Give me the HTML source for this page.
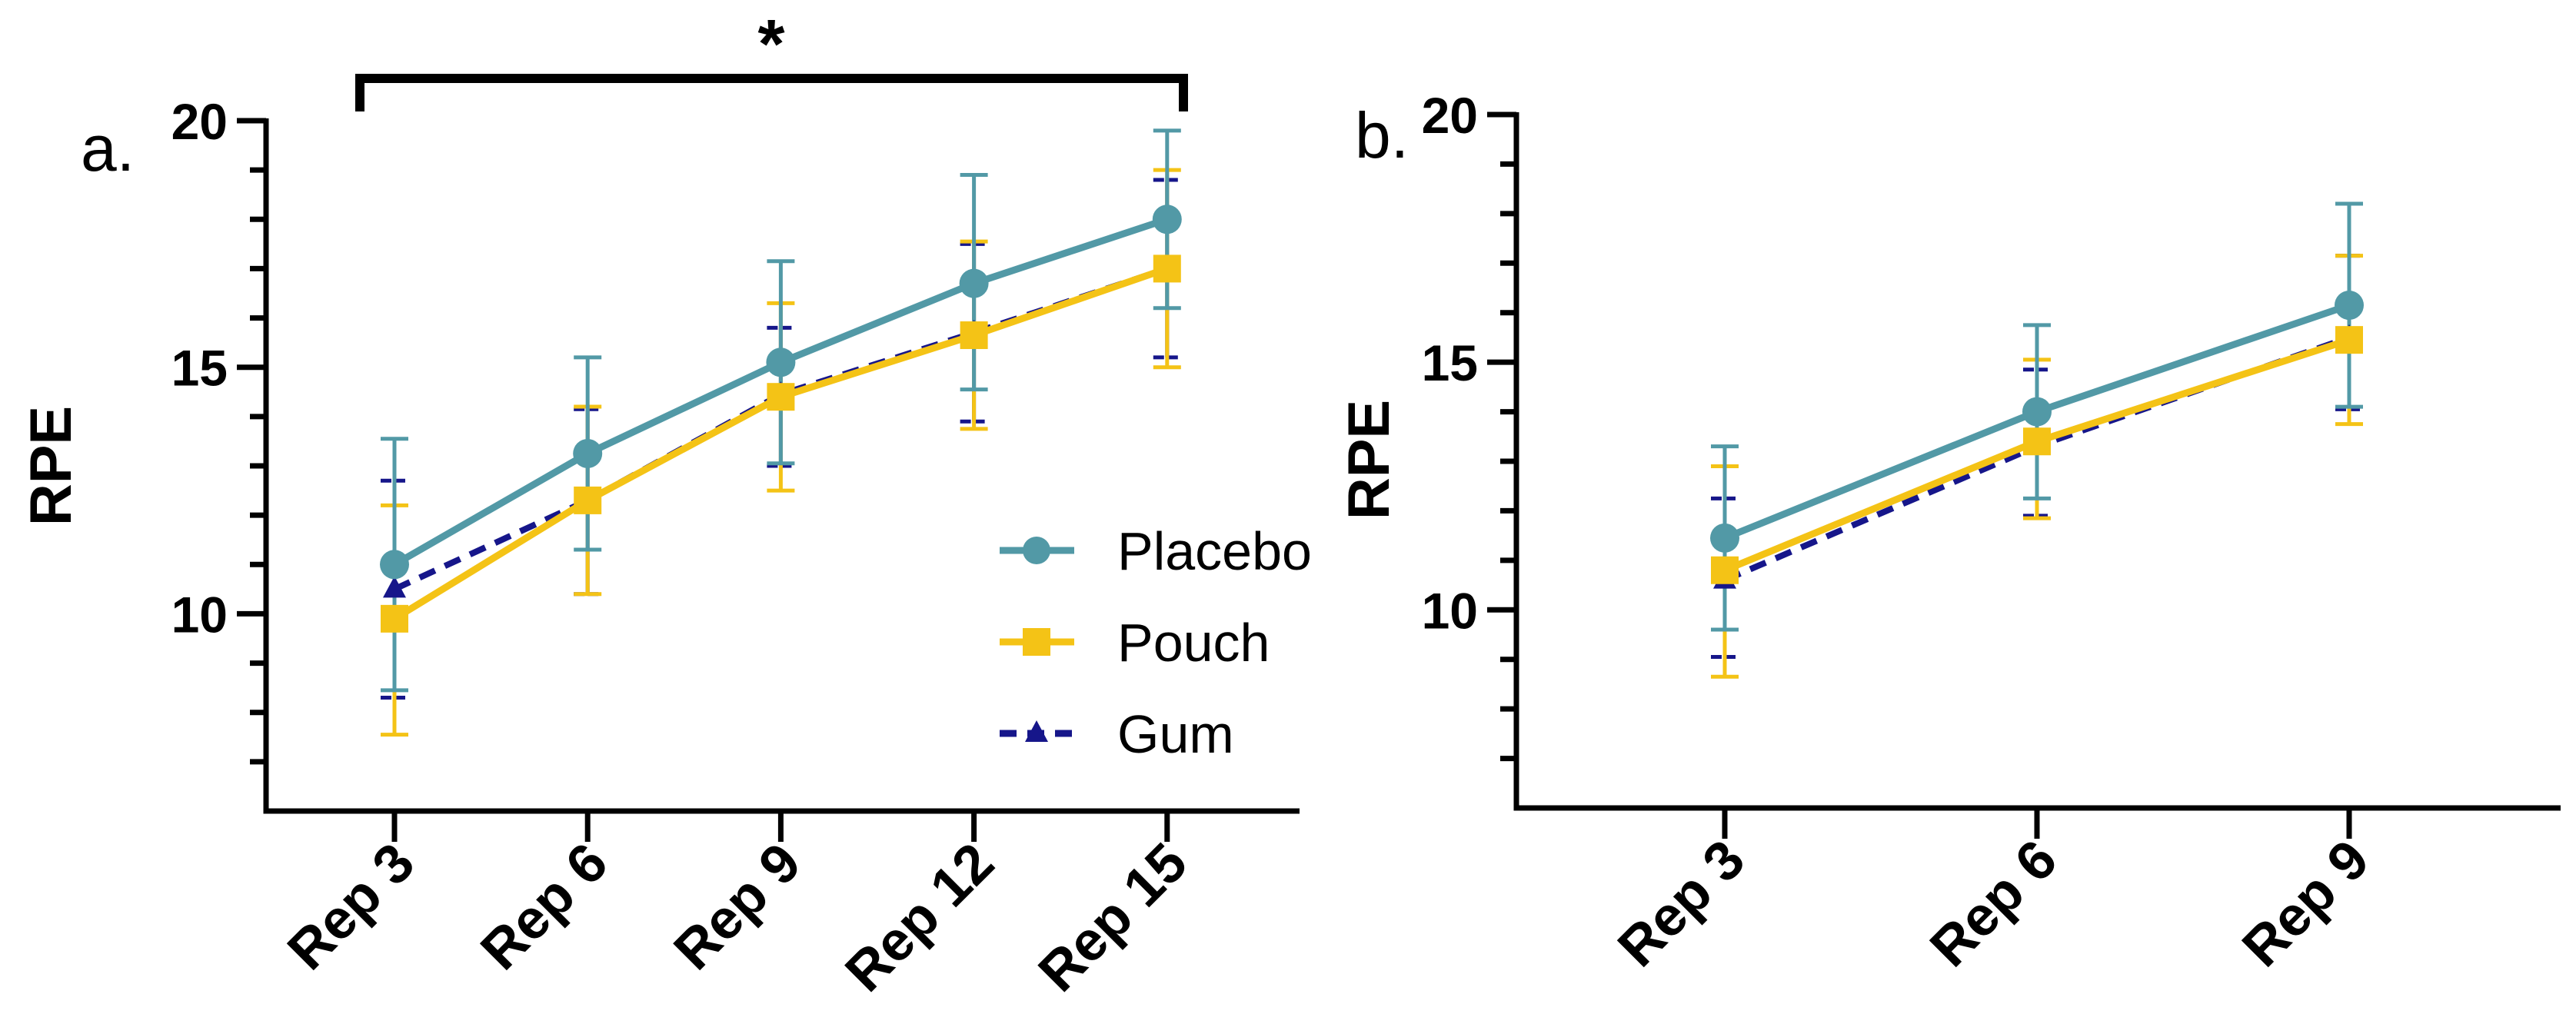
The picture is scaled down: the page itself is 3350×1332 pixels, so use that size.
<!DOCTYPE html>
<html><head><meta charset="utf-8"><style>
html,body{margin:0;padding:0;background:#fff;}
svg{display:block;font-family:"Liberation Sans",Arial,sans-serif;}
</style></head><body>
<svg id="chart" width="3350" height="1332" viewBox="0 0 3350 1332" xmlns="http://www.w3.org/2000/svg">
<g id="panelA"></g>
<g id="panelB"></g>
</svg>
<script>
// ---- Panel a data ----
const catsA = ["Rep 3","Rep 6","Rep 9","Rep 12","Rep 15"];
const placeboA = [11.0,13.25,15.1,16.7,18.0];
const placeboAHi = [13.55,15.2,17.15,18.9,19.8];
const placeboALo = [8.45,11.3,13.05,14.55,16.2];
const pouchA = [9.9,12.3,14.4,15.65,17.0];
const pouchAHi = [12.2,14.2,16.3,17.55,19.0];
const pouchALo = [7.55,10.4,12.5,13.75,15.0];
const gumA = [10.5,12.3,14.45,15.7,17.0];
const gumAHi = [12.7,14.15,15.8,17.5,18.8];
const gumALo = [8.3,10.4,13.0,13.9,15.2];
// ---- Panel b data ----
const catsB = ["Rep 3","Rep 6","Rep 9"];
const placeboB = [11.45,14.0,16.15];
const placeboBHi = [13.3,15.75,18.2];
const placeboBLo = [9.6,12.25,14.1];
const pouchB = [10.8,13.4,15.45];
const pouchBHi = [12.9,15.05,17.15];
const pouchBLo = [8.65,11.85,13.75];
const gumB = [10.6,13.3,15.5];
const gumBHi = [12.25,14.85,17.15];
const gumBLo = [9.05,11.9,14.05];
const yTicks = [10,15,20];
const yMin = 6, yMax = 20;

const NS = "http://www.w3.org/2000/svg";
const TEAL = "#5299a6", YEL = "#f4c316", NAVY = "#16168a";
function mk(parent, tag, attrs){const e=document.createElementNS(NS,tag);for(const k in attrs)e.setAttribute(k,attrs[k]);parent.appendChild(e);return e;}

function drawPanel(g, cfg){
  const yS = v => cfg.yTop + (yMax - v) * (cfg.yBot - cfg.yTop) / (yMax - yMin);
  const xS = i => cfg.x0 + i * cfg.dx;
  let e = mk(g,"line",{x1:cfg.axX,y1:cfg.yTop-3,x2:cfg.axX,y2:cfg.yBot,stroke:"#000","stroke-width":7});
   
  e = mk(g,"line",{x1:cfg.axX-3.5,y1:cfg.yBot,x2:cfg.axEnd,y2:cfg.yBot,stroke:"#000","stroke-width":7});
   
  for(let v=yMin+1; v<=yMax; v++){
    const major = yTicks.includes(v);
    e = mk(g,"line",{x1:cfg.axX-(major?38:21),y1:yS(v),x2:cfg.axX,y2:yS(v),stroke:"#000","stroke-width":7});
     
  }
  yTicks.forEach(v=>{
    const t = mk(g,"text",{x:cfg.axX-50,y:yS(v)+24,"text-anchor":"end","font-size":66,"font-weight":"bold"});
    t.textContent = v;
     
  });
  cfg.cats.forEach((c,i)=>{
    e = mk(g,"line",{x1:xS(i),y1:cfg.yBot,x2:xS(i),y2:cfg.yBot+40,stroke:"#000","stroke-width":7});
     
    const t = mk(g,"text",{x:0,y:0,"text-anchor":"end","font-size":72,"font-weight":"bold",transform:`translate(${xS(i)+30},${cfg.yBot+72}) rotate(-45)`});
    t.textContent = c;
     
  });
  const yl = mk(g,"text",{x:0,y:0,"text-anchor":"middle","font-size":76,"font-weight":"bold",transform:`translate(${cfg.rpeX},${cfg.rpeY}) rotate(-90)`});
  yl.textContent = "RPE";
   
  const pl = mk(g,"text",{x:cfg.lblX,y:cfg.lblY,"font-size":84});
  pl.textContent = cfg.label;
   

  const series = [
    {name:"gum",c:NAVY,v:cfg.gum,hi:cfg.gumHi,lo:cfg.gumLo,dash:"22 14",mark:"tri"},
    {name:"pouch",c:YEL,v:cfg.pouch,hi:cfg.pouchHi,lo:cfg.pouchLo,dash:null,mark:"sq"},
    {name:"placebo",c:TEAL,v:cfg.placebo,hi:cfg.placeboHi,lo:cfg.placeboLo,dash:null,mark:"circ"}
  ];
  series.forEach(s=>{
    s.v.forEach((v,i)=>{
      const x=xS(i);
      e = mk(g,"line",{x1:x,y1:yS(s.hi[i]),x2:x,y2:yS(s.lo[i]),stroke:s.c,"stroke-width":5});
       
      [s.hi[i],s.lo[i]].forEach(cv=>{
        e = mk(g,"line",{x1:x-18,y1:yS(cv),x2:x+18,y2:yS(cv),stroke:s.c,"stroke-width":5});
        if(s.dash) e.setAttribute("stroke-dasharray","14 4");
         
      });
    });
  });
  series.forEach(s=>{
    const pts = s.v.map((v,i)=>xS(i)+","+yS(v)).join(" ");
    const a = {points:pts,fill:"none",stroke:s.c,"stroke-width":s.dash?8:9,"stroke-linejoin":"round"};
    if(s.dash) a["stroke-dasharray"]=s.dash;
    e = mk(g,"polyline",a);
     
    s.v.forEach((v,i)=>{
      const x=xS(i), y=yS(v);
      let m;
      if(s.mark==="circ") m = mk(g,"circle",{cx:x,cy:y,r:19,fill:s.c});
      else if(s.mark==="sq") m = mk(g,"rect",{x:x-18,y:y-18,width:36,height:36,fill:s.c});
      else m = mk(g,"polygon",{points:`${x},${y-17} ${x-15},${y+11} ${x+15},${y+11}`,fill:s.c});
       
    });
  });
}

const gA = document.getElementById("panelA");
drawPanel(gA,{cats:catsA,x0:513,dx:251.2,axX:346,axEnd:1690,yTop:157,yBot:1055,rpeX:92,rpeY:606,lblX:105,lblY:222,label:"a.",
  placebo:placeboA,placeboHi:placeboAHi,placeboLo:placeboALo,pouch:pouchA,pouchHi:pouchAHi,pouchLo:pouchALo,gum:gumA,gumHi:gumAHi,gumLo:gumALo});
const gB = document.getElementById("panelB");
drawPanel(gB,{cats:catsB,x0:2243,dx:406,axX:1972,axEnd:3330,yTop:149,yBot:1051,rpeX:1806,rpeY:598,lblX:1762,lblY:205,label:"b.",
  placebo:placeboB,placeboHi:placeboBHi,placeboLo:placeboBLo,pouch:pouchB,pouchHi:pouchBHi,pouchLo:pouchBLo,gum:gumB,gumHi:gumBHi,gumLo:gumBLo});

let br = mk(gA,"polyline",{points:"468,145 468,102 1539,102 1539,145",fill:"none",stroke:"#000","stroke-width":12});
 
let st = mk(gA,"text",{x:1003,y:88,"text-anchor":"middle","font-size":90,"font-weight":"bold"});
st.textContent = "*";
 

const legend = mk(gA,"g",{});
 
const legNames = ["Placebo","Pouch","Gum"];
const legY = [716,835,954];
legNames.forEach((n,i)=>{
  const y = legY[i];
  const c = [TEAL,YEL,NAVY][i];
  const ent = mk(legend,"g",{});
   
  const ln = mk(ent,"line",{x1:1300,y1:y,x2:1397,y2:y,stroke:c,"stroke-width":9});
  if(i===2) ln.setAttribute("stroke-dasharray","22 14");
  if(i===0) mk(ent,"circle",{cx:1348,cy:y,r:18,fill:c});
  else if(i===1) mk(ent,"rect",{x:1330,y:y-18,width:36,height:36,fill:c});
  else mk(ent,"polygon",{points:`1348,${y-17} 1333,${y+11} 1363,${y+11}`,fill:c});
  const t = mk(ent,"text",{x:1453,y:y+25,"font-size":70});
  t.textContent = n;
});
</script>
</body></html>
